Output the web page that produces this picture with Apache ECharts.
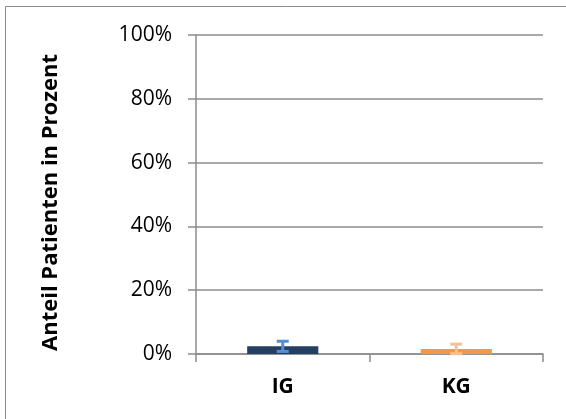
<!DOCTYPE html>
<html>
<head>
<meta charset="utf-8">
<script src="https://cdn.jsdelivr.net/npm/echarts@6/dist/echarts.min.js"></script>
<style>html,body{margin:0;padding:0;background:#fff}#c{width:566px;height:419px}</style>
</head>
<body>
<div id="c"></div>
<script>
const categories = ['IG', 'KG'];
const values = [2.4, 1.6];
const errors = [1.6, 1.5];
const barColors = ['#243F60', '#F79646'];
const errColors = ['#558ED5', '#FAC090'];
const yTicks = [0, 20, 40, 60, 80, 100];
const yTitle = 'Anteil Patienten in Prozent';

const chart = echarts.init(document.getElementById('c'));
const font = '"Open Sans", "Liberation Sans", Arial, sans-serif';
chart.setOption({
  animation: false,
  graphic: [{
    type: 'rect', shape: {x: 5.5, y: 6.5, width: 580, height: 430},
    style: {fill: 'none', stroke: '#8c8c8c', lineWidth: 1}, z: -1
  }],
  grid: {left: 196, top: 35, right: 23, bottom: 65, containLabel: false},
  xAxis: {
    type: 'category', data: categories,
    axisLine: {lineStyle: {color: '#8c8c8c', width: 1.5}},
    axisTick: {show: true, length: 8, lineStyle: {color: '#8c8c8c', width: 1.5}},
    axisLabel: {color: '#000', fontFamily: font, fontWeight: 'bold', fontSize: 21, margin: 23}
  },
  yAxis: {
    type: 'value', min: 0, max: 100, interval: 20,
    name: yTitle, nameLocation: 'middle', nameGap: 134, nameRotate: 90,
    nameTextStyle: {color: '#000', fontFamily: font, fontWeight: 'bold', fontSize: 22, padding: [0, 16, 0, 0]},
    axisLine: {show: true, lineStyle: {color: '#8c8c8c', width: 1.5}},
    axisTick: {show: true, length: 8, lineStyle: {color: '#8c8c8c', width: 1.5}},
    splitLine: {lineStyle: {color: '#8c8c8c', width: 1.5}},
    axisLabel: {
      color: '#000', fontFamily: font, fontSize: 21, margin: 24,
      formatter: v => yTicks.includes(v) ? v + '%' : ''
    }
  },
  series: [{
    type: 'bar', barWidth: '41%',
    data: values.map((v, i) => ({value: v, itemStyle: {color: barColors[i]}}))
  }, {
    type: 'custom', z: 10,
    data: values.map((v, i) => [i, v - errors[i], v + errors[i]]),
    renderItem: (params, api) => {
      const i = api.value(0);
      const lo = api.coord([i, Math.max(0, api.value(1))]);
      const hi = api.coord([i, api.value(2)]);
      const x = lo[0], hw = 6;
      const c = errColors[params.dataIndex];
      const st = {stroke: c, lineWidth: 3};
      return {type: 'group', children: [
        {type: 'line', shape: {x1: x, y1: lo[1], x2: x, y2: hi[1]}, style: st},
        {type: 'line', shape: {x1: x - hw, y1: lo[1], x2: x + hw, y2: lo[1]}, style: st},
        {type: 'line', shape: {x1: x - hw, y1: hi[1], x2: x + hw, y2: hi[1]}, style: st}
      ]};
    }
  }]
});
</script>
</body>
</html>
